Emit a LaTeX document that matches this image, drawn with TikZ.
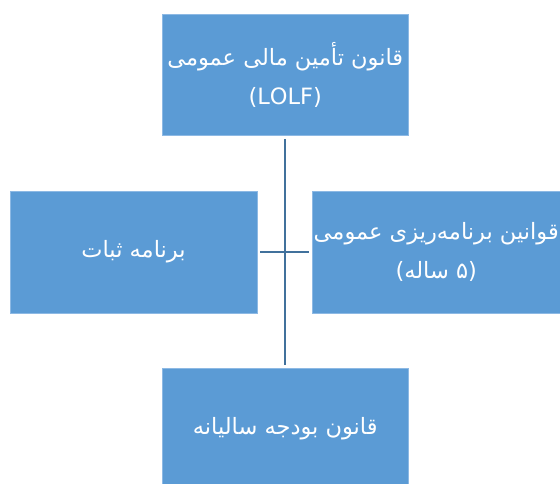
\documentclass[tikz,border=0pt]{standalone}
\usepackage{fontspec}
\setmainfont{DejaVu Sans}
\newfontfamily\arabicfont[Script=Arabic]{DejaVu Sans}
\TeXXeTstate=1
\definecolor{boxblue}{HTML}{5B9BD5}
\definecolor{boxedge}{HTML}{8DB9E4}
\definecolor{linkblue}{HTML}{41719C}
\tikzset{
  panel/.style={rectangle, fill=boxblue, draw=boxedge, line width=0.6pt,
    text=white, align=center, inner sep=0pt,
    font=\arabicfont\fontsize{22.5}{39}\selectfont},
  link/.style={draw=linkblue, line width=2pt, shorten <=3pt, shorten >=3pt}
}
\begin{document}
\begin{tikzpicture}[x=1pt,y=-1pt]
\useasboundingbox (0,0) rectangle (560,484);
\node[panel, minimum width=246.5pt, minimum height=121.5pt] (top) at (285.25,74.75)
  {\beginR قانون تأمین مالی عمومی\endR\\(LOLF)};
\node[panel, minimum width=247pt, minimum height=122pt] (left) at (133.5,252)
  {\beginR برنامه ثبات\endR};
\node[panel, minimum width=248pt, minimum height=122pt] (right) at (436.25,252)
  {\beginR قوانین برنامه‌ریزی عمومی\endR\\\beginR (۵ ساله)\endR};
\node[panel, minimum width=246.5pt, minimum height=122pt] (bottom) at (285.25,429)
  {\beginR قانون بودجه سالیانه\endR};
\draw[link] (top.south) -- (bottom.north);
\draw[link] (left.east) -- (right.west);
\end{tikzpicture}
\end{document}
